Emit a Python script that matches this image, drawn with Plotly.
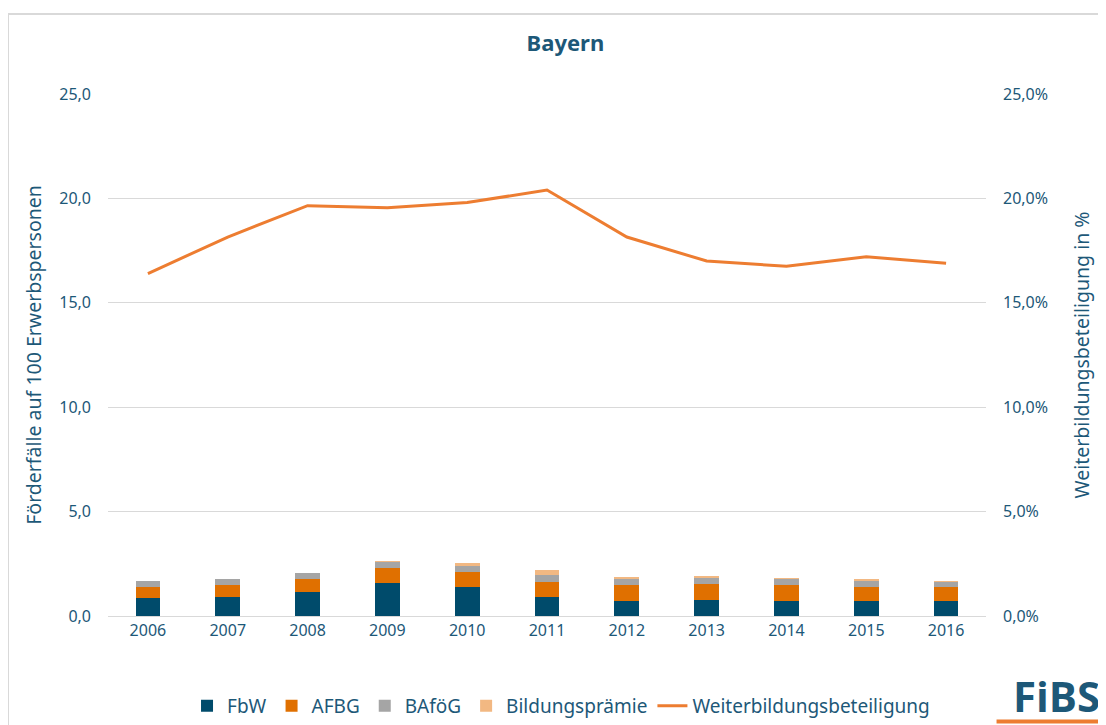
import plotly.graph_objects as go

years = ['2006', '2007', '2008', '2009', '2010', '2011', '2012', '2013', '2014', '2015', '2016']
fbw = [0.85, 0.90, 1.16, 1.58, 1.40, 0.91, 0.73, 0.78, 0.73, 0.73, 0.73]
afbg = [0.55, 0.58, 0.63, 0.73, 0.71, 0.73, 0.75, 0.74, 0.77, 0.67, 0.67]
bafoeg = [0.28, 0.28, 0.27, 0.29, 0.30, 0.32, 0.28, 0.32, 0.29, 0.29, 0.23]
praemie = [0.0, 0.0, 0.0, 0.03, 0.14, 0.24, 0.11, 0.08, 0.03, 0.05, 0.03]
beteiligung = [16.4, 18.15, 19.65, 19.55, 19.8, 20.4, 18.15, 17.0, 16.75, 17.2, 16.9]

txt = '#1d5878'
font = 'Noto Sans'

fig = go.Figure()
for name, vals, col in [('FbW', fbw, '#004b6b'), ('AFBG', afbg, '#e07000'),
                        ('BAföG', bafoeg, '#a5a5a5'), ('Bildungsprämie', praemie, '#f2b882')]:
    fig.add_trace(go.Bar(x=years, y=vals, name=name, marker_color=col,
                         marker_line_width=0, width=0.31))
fig.add_trace(go.Scatter(x=years, y=beteiligung, name='Weiterbildungsbeteiligung',
                         mode='lines', line=dict(color='#ed7d31', width=3), yaxis='y2'))

# page body adds an 8px offset, margins are set so the plot area lands where the reference has it
fig.update_layout(
    width=1106, height=725,
    barmode='stack',
    separators=',.',
    plot_bgcolor='white', paper_bgcolor='white',
    font=dict(family=font, color=txt, size=15),
    margin=dict(l=100, r=128, t=86, b=117, autoexpand=False),
    title=dict(text='<b>Bayern</b>', x=0.504, xanchor='center', y=0.952, yanchor='middle',
               font=dict(size=22, color=txt)),
    xaxis=dict(showline=True, linecolor='#d9d9d9', linewidth=1, ticks='',
               tickfont=dict(size=16, color=txt)),
    yaxis=dict(range=[0, 25], dtick=5, tickformat='.1f', gridcolor='#d9d9d9',
               zeroline=False, ticklabelstandoff=16,
               title=dict(text='Förderfälle auf 100 Erwerbspersonen', font=dict(size=19.5, color=txt),
                          standoff=12),
               tickfont=dict(size=16, color=txt)),
    yaxis2=dict(range=[0, 25], dtick=5, tickformat='.1f', ticksuffix='%', overlaying='y',
                side='right', showgrid=False, zeroline=False, ticklabelstandoff=16,
                title=dict(text='Weiterbildungsbeteiligung in %', font=dict(size=19.5, color=txt),
                           standoff=28),
                tickfont=dict(size=16, color=txt)),
    legend=dict(orientation='h', x=0.09, y=-0.172, xanchor='left', yanchor='middle',
                font=dict(size=19, color=txt), itemwidth=30, traceorder='normal'),
)

# frame around chart
fig.add_shape(type='rect', xref='paper', yref='paper', x0=-0.1139, x1=1.1333, y0=-0.23, y1=1.1533,
              line=dict(color='#d9d9d9', width=2), fillcolor='rgba(0,0,0,0)', layer='below')

# FiBS logo
fig.add_annotation(text='<b>FiBS</b>', xref='paper', yref='paper', x=1.132, y=-0.153,
                   xanchor='right', yanchor='middle', showarrow=False,
                   font=dict(family='Open Sans', size=42, color='#1d5878'))
fig.add_shape(type='line', xref='paper', yref='paper', x0=1.012, x1=1.14, y0=-0.202, y1=-0.202,
              line=dict(color='#ed7d31', width=4))

fig.write_html('out.html')
